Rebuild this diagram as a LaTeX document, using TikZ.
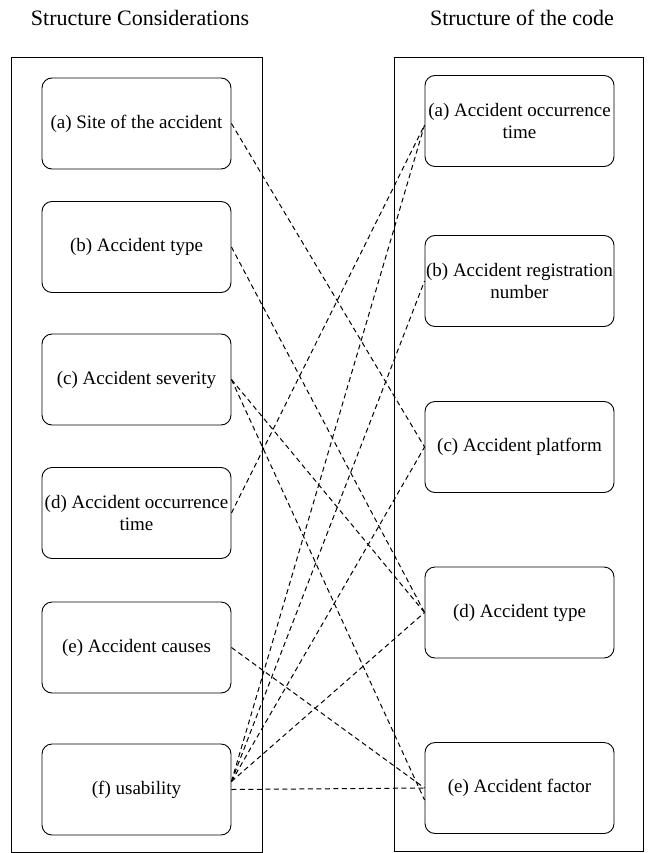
\documentclass[tikz,border=0pt]{standalone}
\usepackage{fontspec}
\setmainfont{Liberation Serif}
\begin{document}
\begin{tikzpicture}[x=1pt,y=-1pt,
  panel/.style={draw, line width=0.9pt, inner sep=0pt},
  item/.style={draw, line width=0.9pt, rounded corners=10pt,
    minimum width=189pt, minimum height=91pt, inner sep=0pt,
    align=center, font=\fontsize{19}{22}\selectfont},
  heading/.style={inner sep=0pt, font=\fontsize{22}{26}\selectfont},
  link/.style={line width=1pt, dash pattern=on 5pt off 3.5pt}]
\useasboundingbox (0,0) rectangle (648,853);

% column headings
\node[heading] (lhead) at (140,18) {Structure Considerations};
\node[heading] (rhead) at (522,18) {Structure of the code};

% outer panels
\node[panel, minimum width=251pt, minimum height=795pt] (lpanel) at (136.5,454.5) {};
\node[panel, minimum width=249pt, minimum height=794pt] (rpanel) at (518.5,454) {};

% left column items
\node[item] (la) at (136.5,123.5) {(a) Site of the accident};
\node[item] (lb) at (136.5,247)   {(b) Accident type};
\node[item] (lc) at (136.5,379.5) {(c) Accident severity};
\node[item] (ld) at (136.5,513)   {(d) Accident occurrence\\time};
\node[item] (le) at (136.5,647.5) {(e) Accident causes};
\node[item] (lf) at (136.5,789.5) {(f) usability};

% right column items
\node[item] (ra) at (519.5,121)   {(a) Accident occurrence\\time};
\node[item] (rb) at (519.5,281)   {(b) Accident registration\\number};
\node[item] (rc) at (519.5,447)   {(c) Accident platform};
\node[item] (rd) at (519.5,612.5) {(d) Accident type};
\node[item] (re) at (519.5,788)   {(e) Accident factor};

% correspondences
\draw[link] (la.east) -- (rc.west);
\draw[link] (lb.east) -- (rd.west);
\draw[link] (lc.east) -- (rd.west);
\draw[link] (lc.east) -- ([yshift=-12pt]re.west);
\draw[link] (ld.east) -- ([yshift=-4pt]ra.west);
\draw[link] (le.east) -- (re.west);
\draw[link] ([yshift=8pt]lf.east) -- ([yshift=-4pt]ra.west);
\draw[link] ([yshift=8pt]lf.east) -- (rb.west);
\draw[link] ([yshift=8pt]lf.east) -- (rc.west);
\draw[link] ([yshift=8pt]lf.east) -- (rd.west);
\draw[link] (lf.east) -- (re.west);
\end{tikzpicture}
\end{document}
